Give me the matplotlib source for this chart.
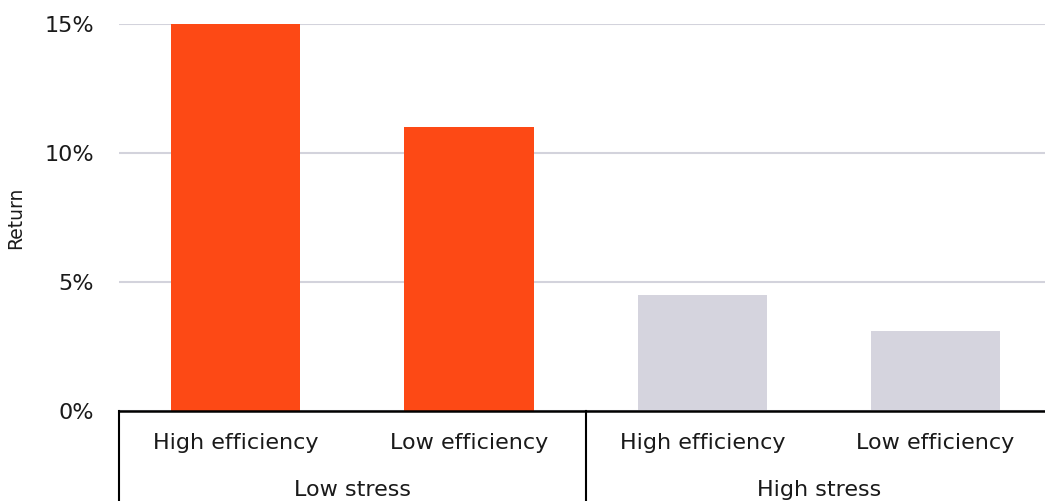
import numpy as np
import matplotlib.pyplot as plt
from matplotlib.transforms import blended_transform_factory

# Datos del gráfico
categorias = ["High efficiency", "Low efficiency", "High efficiency", "Low efficiency"]
grupos = ["Low stress", "High stress"]
retornos = [15.0, 11.0, 4.5, 3.1]
colores = ["#fd4915", "#fd4915", "#d5d4de", "#d5d4de"]
ticks_y = [0, 5, 10, 15]

plt.rcParams['font.family'] = ['DejaVu Sans']

fig = plt.figure(figsize=(10.45, 5.01), dpi=100)
ax = fig.add_axes([0.1139, 0.1796, 0.893, 0.7725])

x = np.arange(len(retornos))
ax.bar(x, retornos, width=0.555, color=colores, zorder=2)

ax.set_xlim(-0.5, len(retornos) - 0.5)
ax.set_ylim(0, 15)
ax.set_yticks(ticks_y)
ax.set_yticklabels([f"{t}%" for t in ticks_y], fontsize=16, color="#1a1a1a")
ax.tick_params(axis='y', length=0, pad=18)
ax.set_xticks([])
ax.grid(axis='y', color="#d3d3dc", linewidth=1.5, zorder=1)
ax.set_ylabel("Return", fontsize=13.5, color="#1a1a1a", labelpad=14)

for lado in ["top", "right", "left"]:
    ax.spines[lado].set_visible(False)
ax.spines["bottom"].set_linewidth(1.8)
ax.spines["bottom"].set_color("black")
ax.spines["bottom"].set_zorder(3)

# Etiquetas de categoría y grupo debajo del eje
trans = blended_transform_factory(ax.transData, ax.transAxes)
for xi, cat in zip(x, categorias):
    ax.text(xi, -0.083, cat, transform=trans, ha='center', va='center',
            fontsize=16, color="#1a1a1a")
for i, grupo in enumerate(grupos):
    ax.text(2 * i + 0.5, -0.205, grupo, transform=trans, ha='center', va='center',
            fontsize=16, color="#1a1a1a")

# Líneas separadoras de los grupos
for xs in [-0.5, 1.5, 3.5]:
    ax.plot([xs, xs], [0, -0.3], transform=trans, color="black", linewidth=1.5,
            clip_on=False, zorder=3)

fig.savefig("out.png", dpi=100)
